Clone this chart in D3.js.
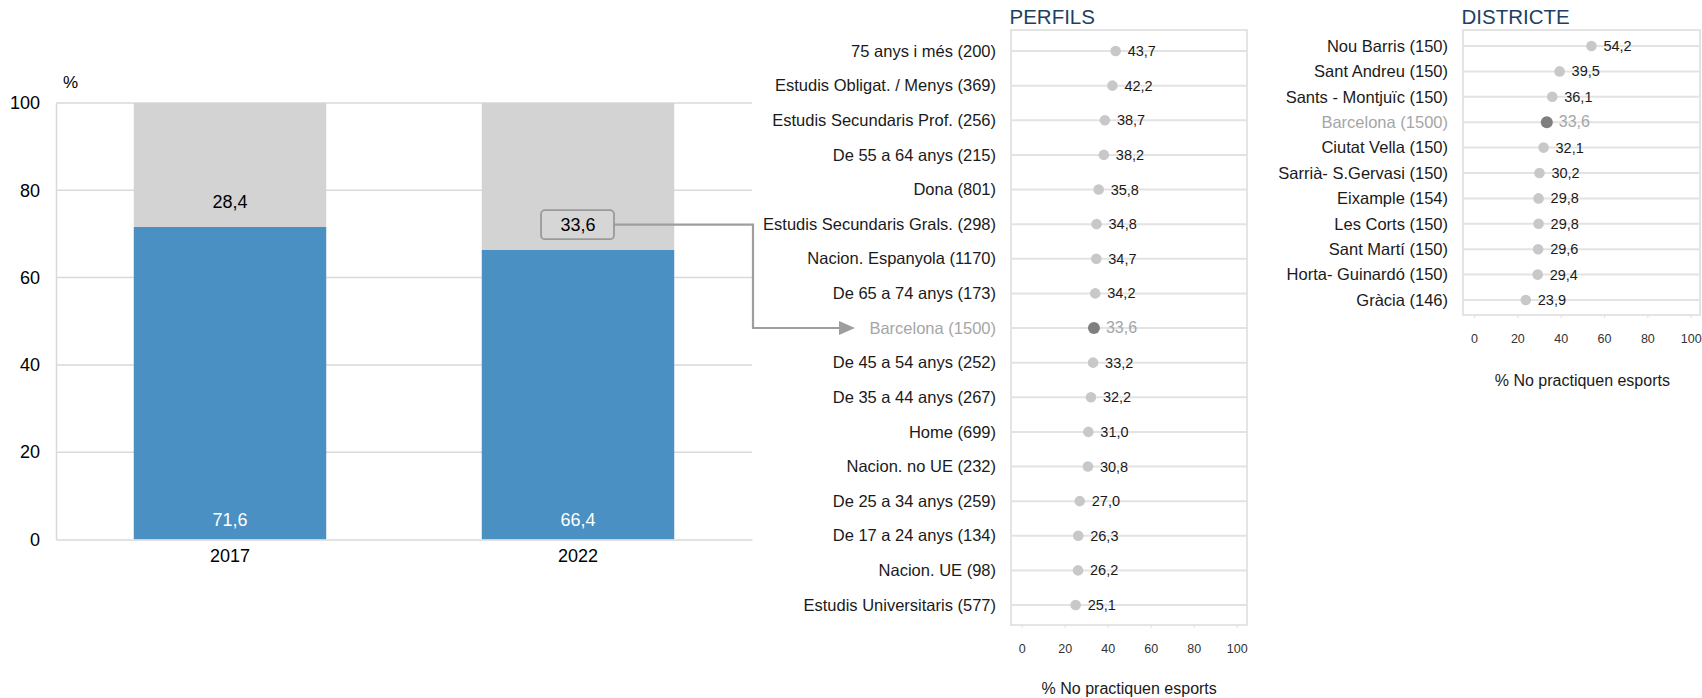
<!DOCTYPE html>
<html>
<head>
<meta charset="utf-8">
<script src="https://cdn.jsdelivr.net/npm/d3@7"></script>
<style>
  html, body { margin: 0; padding: 0; background: #fff; }
  svg { display: block; font-family: "Liberation Sans", Arial, sans-serif; }
</style>
</head>
<body>
<svg id="chart" width="1702" height="698"></svg>
<script>
// ---- Data ----
const years = ["2017", "2022"];
const practiquen = [71.6, 66.4];
const noPractiquen = [28.4, 33.6];
const barTicks = [0, 20, 40, 60, 80, 100];

const perfilsLabels = [
  "75 anys i més (200)",
  "Estudis Obligat. / Menys (369)",
  "Estudis Secundaris Prof. (256)",
  "De 55 a 64 anys (215)",
  "Dona (801)",
  "Estudis Secundaris Grals. (298)",
  "Nacion. Espanyola (1170)",
  "De 65 a 74 anys (173)",
  "Barcelona (1500)",
  "De 45 a 54 anys (252)",
  "De 35 a 44 anys (267)",
  "Home (699)",
  "Nacion. no UE (232)",
  "De 25 a 34 anys (259)",
  "De 17 a 24 anys (134)",
  "Nacion. UE (98)",
  "Estudis Universitaris (577)"
];
const perfilsValues = [43.7, 42.2, 38.7, 38.2, 35.8, 34.8, 34.7, 34.2, 33.6, 33.2, 32.2, 31.0, 30.8, 27.0, 26.3, 26.2, 25.1];

const districteLabels = [
  "Nou Barris (150)",
  "Sant Andreu (150)",
  "Sants - Montjuïc (150)",
  "Barcelona (1500)",
  "Ciutat Vella (150)",
  "Sarrià- S.Gervasi (150)",
  "Eixample (154)",
  "Les Corts (150)",
  "Sant Martí (150)",
  "Horta- Guinardó (150)",
  "Gràcia (146)"
];
const districteValues = [54.2, 39.5, 36.1, 33.6, 32.1, 30.2, 29.8, 29.8, 29.6, 29.4, 23.9];

const dotTicks = [0, 20, 40, 60, 80, 100];
const highlight = "Barcelona (1500)";

// ---- Helpers ----
const fmt = v => d3.format(".1f")(v).replace(".", ",");
const svg = d3.select("#chart");

// ---- Stacked bar chart ----
const bx = d3.scaleBand().domain(years).range([56, 752]).paddingInner(0.447).paddingOuter(0.2235);
const by = d3.scaleLinear().domain([0, 100]).range([539.5, 103]);

const bar = svg.append("g");

// horizontal gridlines
bar.append("g").selectAll("line").data(barTicks.filter(t => t > 0)).join("line")
  .attr("x1", 56).attr("x2", 752)
  .attr("y1", d => by(d)).attr("y2", d => by(d))
  .attr("stroke", "#d9d9d9").attr("stroke-width", 1.5);

// y axis
const yAxis = d3.axisLeft(by).tickValues(barTicks).tickSize(0).tickPadding(16);
const gy = bar.append("g").attr("transform", "translate(56,0)").call(yAxis);
gy.select(".domain").attr("stroke", "#d9d9d9").attr("stroke-width", 1.5);
gy.selectAll("text").attr("font-size", 18).attr("fill", "#000").attr("font-family", "Liberation Sans, Arial, sans-serif");

bar.append("text").attr("x", 63).attr("y", 88).attr("font-size", 17).attr("fill", "#000").text("%");

const stacked = years.map((y, i) => ({ year: y, a: practiquen[i], b: noPractiquen[i] }));

// blue segment (practiquen)
bar.append("g").selectAll("rect").data(stacked).join("rect")
  .attr("x", d => bx(d.year)).attr("width", bx.bandwidth())
  .attr("y", d => by(d.a)).attr("height", d => by(0) - by(d.a))
  .attr("fill", "#4a90c2");

// gray segment (no practiquen)
bar.append("g").selectAll("rect").data(stacked).join("rect")
  .attr("x", d => bx(d.year)).attr("width", bx.bandwidth())
  .attr("y", d => by(d.a + d.b)).attr("height", d => by(d.a) - by(d.a + d.b))
  .attr("fill", "#d3d3d3");

// x axis
const xAxis = d3.axisBottom(bx).tickSize(0).tickPadding(10);
const gx = bar.append("g").attr("transform", `translate(0,${by(0)})`).call(xAxis);
gx.select(".domain").attr("stroke", "#d9d9d9").attr("stroke-width", 1.5);
gx.selectAll("text").attr("font-size", 18).attr("fill", "#000").attr("font-family", "Liberation Sans, Arial, sans-serif");

// blue value labels
bar.append("g").selectAll("text").data(stacked).join("text")
  .attr("x", d => bx(d.year) + bx.bandwidth() / 2)
  .attr("y", by(0) - 13.5)
  .attr("text-anchor", "middle").attr("font-size", 18).attr("fill", "#fff")
  .text(d => fmt(d.a));

// gray value labels; the latest year's label is boxed and linked to the profile chart
const last = stacked[stacked.length - 1];
stacked.forEach(d => {
  const cx = bx(d.year) + bx.bandwidth() / 2;
  const cy = by(d.a) - 25;
  if (d === last) {
    bar.append("rect")
      .attr("x", cx - 37).attr("y", cy - 14.5).attr("width", 73).attr("height", 29)
      .attr("rx", 4).attr("ry", 4)
      .attr("fill", "#d6d6d6").attr("stroke", "#9a9a9a").attr("stroke-width", 1.8);
  }
  bar.append("text")
    .attr("x", cx).attr("y", cy + 6.5)
    .attr("text-anchor", "middle").attr("font-size", 18).attr("fill", "#000")
    .text(fmt(d.b));
});

// ---- Dot plots ----
function dotPanel(opts) {
  const g = svg.append("g");
  const { labels, values, box, xRange, yRange, title, axisTitleY } = opts;
  const x = d3.scaleLinear().domain([0, 100]).range(xRange);
  const y = d3.scalePoint().domain(labels).range(yRange);

  g.append("text").attr("x", box[0] - 1.5).attr("y", 24)
    .attr("font-size", 20.5).attr("fill", "#1d3f63").text(title);

  g.append("rect")
    .attr("x", box[0]).attr("y", box[1]).attr("width", box[2] - box[0]).attr("height", box[3] - box[1])
    .attr("fill", "none").attr("stroke", "#dcdcdc").attr("stroke-width", 1.5);

  // row lines
  g.append("g").selectAll("line").data(labels).join("line")
    .attr("x1", box[0]).attr("x2", box[2])
    .attr("y1", d => y(d)).attr("y2", d => y(d))
    .attr("stroke", "#e3e3e3").attr("stroke-width", 2);

  // category labels
  g.append("g").selectAll("text").data(labels).join("text")
    .attr("x", box[0] - 15).attr("y", d => y(d) + 5.7)
    .attr("text-anchor", "end").attr("font-size", 16.5)
    .attr("fill", d => d === highlight ? "#a6a6a6" : "#1a1a1a")
    .text(d => d);

  const rows = labels.map((l, i) => ({ l, v: values[i] }));

  g.append("g").selectAll("circle").data(rows).join("circle")
    .attr("cx", d => x(d.v)).attr("cy", d => y(d.l))
    .attr("r", d => d.l === highlight ? 6 : 5.3)
    .attr("fill", d => d.l === highlight ? "#7f7f7f" : "#c8c8c8");

  g.append("g").selectAll("text").data(rows).join("text")
    .attr("x", d => x(d.v) + 12).attr("y", d => y(d.l) + 5)
    .attr("font-size", d => d.l === highlight ? 16 : 14.5)
    .attr("fill", d => d.l === highlight ? "#a6a6a6" : "#1a1a1a")
    .text(d => fmt(d.v));

  // x axis ticks and labels
  const ax = d3.axisBottom(x).tickValues(dotTicks).tickSize(3).tickPadding(16);
  const ga = g.append("g").attr("transform", `translate(0,${box[3]})`).call(ax);
  ga.select(".domain").remove();
  ga.selectAll("line").attr("stroke", "#e0e0e0");
  ga.selectAll("text").attr("font-size", 12.5).attr("fill", "#333")
    .attr("font-family", "Liberation Sans, Arial, sans-serif");

  g.append("text").attr("x", (xRange[0] + xRange[1]) / 2).attr("y", axisTitleY)
    .attr("text-anchor", "middle").attr("font-size", 16).attr("fill", "#1a1a1a")
    .text("% No practiquen esports");

  return { x, y };
}

const perfils = dotPanel({
  labels: perfilsLabels, values: perfilsValues,
  box: [1011, 30, 1247, 625], xRange: [1021.7, 1236.7], yRange: [51, 605],
  title: "PERFILS", axisTitleY: 694
});

dotPanel({
  labels: districteLabels, values: districteValues,
  box: [1463, 30, 1700, 315], xRange: [1474, 1690.7], yRange: [46, 300],
  title: "DISTRICTE", axisTitleY: 386
});

// ---- Connector from the 2022 label to the city row ----
const startX = bx(last.year) + bx.bandwidth() / 2 + 36;
const startY = by(last.a) - 25;
const endY = perfils.y(highlight);
const tipX = 855;
svg.append("path")
  .attr("d", `M${startX},${startY} H753 V${endY} H${tipX - 14}`)
  .attr("fill", "none").attr("stroke", "#9e9e9e").attr("stroke-width", 2.2);
svg.append("path")
  .attr("d", `M${tipX},${endY} L${tipX - 16},${endY - 7} L${tipX - 16},${endY + 7} Z`)
  .attr("fill", "#9e9e9e");
</script>
</body>
</html>
